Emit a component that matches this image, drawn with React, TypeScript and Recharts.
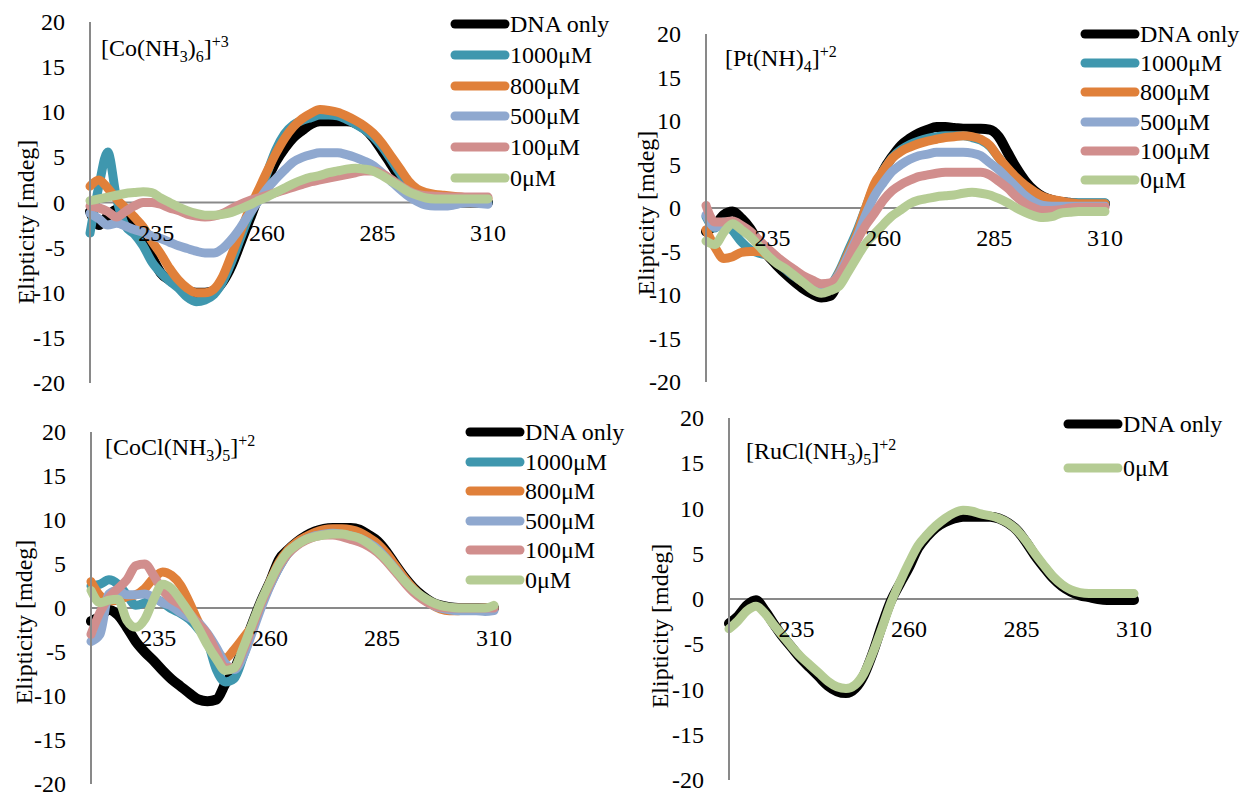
import React from 'react';
import { LineChart, Line, XAxis, YAxis, ReferenceLine } from 'recharts';

const FONT = '"Liberation Serif", "Times New Roman", serif';
const AXIS_GREY = '#898989';

const wavelengths = [
  220, 222, 224, 226, 228, 230, 232, 234, 236, 238, 240, 242, 244, 246, 248, 250,
  252, 254, 256, 258, 260, 262, 264, 266, 268, 270, 272, 274, 276, 278, 280, 282,
  284, 286, 288, 290, 292, 294, 296, 298, 300, 302, 304, 306, 308, 310,
];
const xTicks = [235, 260, 285, 310];
const yTicks = [-20, -15, -10, -5, 0, 5, 10, 15, 20];

const seriesNames = ['DNA only', '1000μM', '800μM', '500μM', '100μM', '0μM'];
const seriesColors = ['#000000', '#3f97ae', '#e0803a', '#8fa8cf', '#d18e8d', '#b5cc94'];

// [Co(NH3)6]+3
const coHexDna = [-1, -2.5, -1.5, -0.8, -1.0, -2.5, -4, -6, -7.8, -8.6, -9.2, -9.8, -10, -10, -9.8, -8.8, -7, -4.5, -2, 0.5, 2.5, 4.5, 6, 7.2, 8, 8.7, 9, 9, 9, 9, 8.8, 8.2, 7.2, 5.8, 4.3, 2.8, 1.6, 0.9, 0.4, 0.2, 0.1, 0, 0, 0, 0, 0];
const coHex1000 = [-3.4, 1.8, 5.6, 0.5, -2.6, -3.5, -4.8, -6.6, -7.8, -8.7, -9.5, -10.5, -11, -10.8, -10.2, -8.8, -6.6, -4, -1.5, 0.5, 3.2, 5.8, 7.6, 8.6, 9.1, 9.4, 9.7, 9.7, 9.6, 9.2, 8.7, 8.1, 7.3, 6.2, 4.8, 3.3, 2, 1.2, 0.6, 0.3, 0.1, 0, 0, 0, 0, 0];
const coHex800 = [1.8, 2.5, 1.6, 0.4, -0.6, -1.6, -2.7, -4.3, -5.7, -7.3, -8.6, -9.5, -10, -10, -9.6, -8.2, -5.8, -3.3, -0.8, 1.3, 3.4, 5.4, 7.1, 8.4, 9.3, 9.9, 10.3, 10.2, 10, 9.6, 9.1, 8.5, 7.7, 6.6, 5.2, 3.8, 2.4, 1.5, 1.1, 0.9, 0.8, 0.7, 0.6, 0.5, 0.45, 0.4];
const coHex500 = [-1.2, -1.8, -2.5, -2.3, -2.6, -3.0, -3.3, -3.7, -4.0, -4.4, -4.8, -5.1, -5.4, -5.6, -5.6, -5.1, -4.1, -2.8, -1.3, 0.1, 1.5, 2.6, 3.6, 4.5, 5.0, 5.3, 5.5, 5.5, 5.5, 5.3, 5, 4.6, 4.1, 3.3, 2.4, 1.5, 0.7, 0.1, -0.3, -0.4, -0.4, -0.3, -0.1, 0, -0.1, -0.2];
const coHex100 = [-0.4, -0.6, -1.0, -1.6, -1.0, -0.4, 0, 0, -0.2, -0.6, -0.9, -1.3, -1.5, -1.6, -1.5, -1.2, -0.7, -0.2, 0.2, 0.5, 0.8, 1.1, 1.4, 1.7, 2.0, 2.3, 2.5, 2.7, 2.9, 3.1, 3.3, 3.5, 3.5, 3.2, 2.6, 1.9, 1.3, 0.9, 0.75, 0.7, 0.65, 0.6, 0.6, 0.6, 0.6, 0.6];
const coHex0 = [0.2, 0.4, 0.6, 0.8, 1.0, 1.1, 1.2, 1.1, 0.5, 0, -0.5, -0.9, -1.2, -1.4, -1.4, -1.3, -1.1, -0.7, -0.3, 0.2, 0.6, 1.1, 1.6, 2.1, 2.5, 2.8, 3.0, 3.3, 3.5, 3.7, 3.8, 3.7, 3.5, 3.0, 2.4, 1.8, 1.2, 0.8, 0.5, 0.4, 0.4, 0.4, 0.4, 0.4, 0.4, 0.4];

// [Pt(NH)4]+2
const ptDna = [-2.7, -2.0, -0.8, -0.4, -1.2, -2.4, -4.2, -5.5, -6.6, -7.6, -8.5, -9.3, -9.9, -10.3, -10.1, -8.2, -5.5, -3.3, -0.5, 1.8, 4.3, 5.9, 7.2, 8.0, 8.6, 9.0, 9.3, 9.3, 9.2, 9.1, 9.1, 9.1, 9.0, 8.2, 6.4, 4.6, 3.1, 2.0, 1.3, 0.9, 0.7, 0.6, 0.5, 0.5, 0.5, 0.5];
const pt1000 = [-1.0, -2.3, -1.6, -2.6, -3.9, -4.8, -5.2, -5.5, -6.3, -7.1, -7.9, -8.6, -9.1, -9.3, -8.9, -7.3, -5.0, -2.7, 0.0, 2.6, 4.3, 5.8, 6.7, 7.3, 7.7, 8.0, 8.2, 8.3, 8.3, 8.3, 8.1, 7.8, 7.1, 5.8, 4.5, 3.4, 2.5, 1.8, 1.2, 0.9, 0.7, 0.6, 0.6, 0.6, 0.6, 0.6];
const pt800 = [-2.5, -4.5, -5.8, -5.6, -5.1, -5.0, -5.0, -5.5, -6.3, -7.0, -7.8, -8.6, -9.1, -9.3, -9.0, -7.5, -5.3, -3.0, 0.0, 2.8, 4.3, 5.7, 6.5, 7.0, 7.4, 7.7, 7.9, 8.1, 8.2, 8.3, 8.2, 7.9, 7.2, 5.8, 4.6, 3.5, 2.6, 1.9, 1.3, 1.0, 0.8, 0.6, 0.5, 0.5, 0.5, 0.5];
const pt500 = [-0.8, -2.2, -1.8, -1.6, -2.3, -3.1, -4.0, -4.9, -5.8, -6.6, -7.4, -8.1, -8.7, -9.0, -8.8, -7.6, -5.6, -3.4, -0.8, 1.4, 2.9, 4.2, 5.0, 5.6, 6.0, 6.2, 6.4, 6.4, 6.4, 6.4, 6.3, 6.0, 5.2, 4.4, 3.4, 2.4, 1.4, 0.7, 0.3, 0.2, 0.2, 0.2, 0.2, 0.2, 0.2, 0.2];
const pt100 = [0.3, -1.6, -1.6, -1.5, -2.0, -2.7, -3.7, -4.7, -5.6, -6.4, -7.1, -7.8, -8.3, -8.7, -8.6, -7.8, -6.0, -3.8, -2.0, -0.6, 0.9, 2.0, 2.7, 3.2, 3.6, 3.8, 4.0, 4.1, 4.1, 4.1, 4.1, 4.1, 3.8, 3.1, 2.3, 1.3, 0.5, 0, -0.3, -0.3, -0.2, 0, 0.1, 0.1, 0.1, 0.1];
const pt0 = [-3.8, -4.2, -2.8, -1.8, -2.5, -3.3, -4.4, -5.5, -6.4, -7.0, -7.8, -8.6, -9.4, -9.8, -9.5, -9.0, -7.4, -5.7, -4.1, -3.0, -1.9, -0.9, -0.2, 0.5, 0.9, 1.1, 1.3, 1.4, 1.5, 1.7, 1.8, 1.7, 1.5, 1.1, 0.6, 0, -0.5, -0.9, -1.1, -1.0, -0.6, -0.5, -0.4, -0.4, -0.4, -0.4];

// [CoCl(NH3)5]+2
const coClDna = [-1.5, -1.0, -0.2, -0.8, -2.2, -3.8, -5.0, -6.0, -7.1, -8.1, -8.9, -9.7, -10.4, -10.6, -10.4, -8.6, -7.0, -4.5, -1.8, 0.8, 3.0, 5.5, 6.6, 7.5, 8.2, 8.7, 9.0, 9.1, 9.1, 9.1, 8.9, 8.3, 7.6, 6.4, 4.9, 3.5, 2.3, 1.4, 0.7, 0.3, 0.1, 0, 0, 0, 0, 0];
const coCl1000 = [2.5, 2.7, 3.2, 2.7, 1.5, 0.3, 0.6, 1.1, 0.6, -0.1, -0.6, -1.3, -2.4, -3.8, -7.0, -8.4, -8.0, -5.5, -2.5, 0.3, 2.6, 4.6, 6.2, 7.2, 7.8, 8.2, 8.5, 8.6, 8.6, 8.4, 8.1, 7.6, 7.2, 6.0, 4.5, 3.2, 2.1, 1.2, 0.5, 0.1, -0.1, -0.2, -0.2, -0.2, -0.1, 0];
const coCl800 = [3.0, 1.4, 0.8, 0.9, 1.3, 1.5, 2.2, 3.4, 4.1, 3.7, 2.6, 0.6, -1.6, -3.3, -4.8, -5.7, -4.7, -3.4, -2.0, 0.3, 3.0, 5.2, 6.6, 7.5, 8.1, 8.6, 8.9, 9.0, 9.0, 8.9, 8.6, 8.0, 7.3, 6.2, 4.8, 3.4, 2.2, 1.2, 0.4, -0.1, -0.3, -0.3, -0.2, -0.1, 0, 0];
const coCl500 = [-3.8, -3.0, 1.6, 2.0, 1.5, 1.5, 1.6, 1.2, 0.6, 0.2, -0.5, -1.1, -1.7, -2.9, -4.5, -6.3, -7.0, -5.5, -2.8, 0, 2.5, 4.6, 6.2, 7.2, 7.8, 8.2, 8.4, 8.5, 8.4, 8.2, 7.9, 7.4, 6.7, 5.6, 4.4, 3.1, 2.0, 1.1, 0.4, 0, -0.2, -0.3, -0.3, -0.3, -0.4, -0.3];
const coCl100 = [-3.0, -0.5, 1.2, 2.2, 3.2, 4.8, 5.0, 3.7, 2.0, 1.0, 0.4, -0.6, -1.8, -3.0, -5.0, -6.8, -6.8, -4.8, -2.2, 0.5, 2.8, 4.8, 6.2, 7.1, 7.7, 8.1, 8.3, 8.3, 8.1, 7.8, 7.5, 7.0, 6.3, 5.3, 4.1, 2.9, 1.8, 1.0, 0.4, 0.1, 0, 0, 0, 0, 0, 0];
const coCl0 = [2.0, 0.6, 0.9, 1.0, -1.4, -2.2, -1.3, 1.0, 2.7, 2.2, 0.9, -0.6, -2.3, -4.2, -5.8, -7.1, -6.8, -4.5, -1.8, 0.8, 3.0, 5.0, 6.4, 7.2, 7.8, 8.1, 8.3, 8.4, 8.4, 8.2, 7.9, 7.3, 6.5, 5.5, 4.3, 3.1, 2.1, 1.3, 0.7, 0.3, 0.1, 0, 0, 0, 0, 0.3];

// [RuCl(NH3)5]+2
const ruDna = [-2.7, -1.9, -0.7, -0.15, -1.3, -2.8, -4.2, -5.4, -6.6, -7.6, -8.6, -9.6, -10.2, -10.4, -9.9, -8.4, -5.9, -2.9, -0.2, 1.7, 3.5, 5.6, 6.9, 7.9, 8.5, 8.9, 9.1, 9.1, 9.1, 9.1, 8.9, 8.4, 7.6, 6.3, 4.8, 3.5, 2.3, 1.4, 0.8, 0.4, 0.2, 0, -0.1, -0.1, -0.1, -0.1];
const ru0 = [-3.3, -2.4, -1.3, -0.8, -1.6, -2.9, -4.1, -5.3, -6.4, -7.3, -8.2, -9.1, -9.7, -9.9, -9.5, -8.2, -5.9, -3.2, -0.4, 1.9, 4.0, 5.9, 7.1, 8.1, 8.9, 9.5, 9.8, 9.7, 9.4, 9.2, 8.9, 8.4, 7.6, 6.4, 5.0, 3.7, 2.5, 1.6, 1.0, 0.7, 0.6, 0.6, 0.6, 0.6, 0.6, 0.6];

type SeriesDef = { key: string; name: string; color: string; values: number[] };

const makeSeries = (lists: number[][], idx: number[]): SeriesDef[] =>
  lists.map((values, i) => ({
    key: 's' + idx[i],
    name: seriesNames[idx[i]],
    color: seriesColors[idx[i]],
    values,
  }));

function buildRows(series: SeriesDef[]) {
  return wavelengths.map((wl, i) => {
    const row: Record<string, number> = { wl };
    series.forEach((s) => {
      row[s.key] = s.values[i];
    });
    return row;
  });
}

type PanelProps = {
  box: { x: number; y: number; w: number; h: number };
  margin: { top: number; right: number; bottom: number; left: number };
  series: SeriesDef[];
  legendPos: { x: number; y: number; step: number };
  title: React.ReactNode;
  titlePos: { x: number; y: number };
  yLabelPos: { x: number; y: number };
};

const subStyle: React.CSSProperties = { fontSize: 16, verticalAlign: -6, lineHeight: 0 };
const supStyle: React.CSSProperties = { fontSize: 16, verticalAlign: 9, lineHeight: 0 };

function CdPanel({ box, margin, series, legendPos, title, titlePos, yLabelPos }: PanelProps) {
  const rows = buildRows(series);
  const plotH = box.h - margin.top - margin.bottom - 1;
  const zeroY = margin.top + plotH / 2;

  const xTick = (props: any) => (
    <text x={props.x} y={zeroY + 38} textAnchor="middle" fontSize={24} fontFamily={FONT} fill="#000">
      {props.payload.value}
    </text>
  );

  const yTick = (props: any) => (
    <text x={props.x} y={props.y + 8} textAnchor="end" fontSize={24} fontFamily={FONT} fill="#000">
      {props.payload.value}
    </text>
  );

  return (
    <div style={{ position: 'absolute', left: box.x, top: box.y, width: box.w, height: box.h }}>
      <LineChart width={box.w} height={box.h} data={rows} margin={margin}>
        <XAxis
          dataKey="wl"
          type="number"
          domain={[220, 310]}
          ticks={xTicks}
          interval={0}
          axisLine={false}
          tickLine={false}
          height={1}
          tick={xTick}
        />
        <YAxis
          type="number"
          domain={[-20, 20]}
          ticks={yTicks}
          interval={0}
          width={80}
          axisLine={{ stroke: AXIS_GREY, strokeWidth: 2 }}
          tickLine={false}
          tickMargin={19}
          tick={yTick}
        />
        <ReferenceLine y={0} stroke={AXIS_GREY} strokeWidth={2} />
        {series.map((s) => (
          <Line
            key={s.key}
            dataKey={s.key}
            name={s.name}
            type="monotone"
            stroke={s.color}
            strokeWidth={s.key === 's0' ? 10 : 9}
            strokeLinecap="round"
            strokeLinejoin="round"
            dot={false}
            activeDot={false}
            isAnimationActive={false}
          />
        ))}
      </LineChart>
      <div
        style={{
          position: 'absolute',
          left: legendPos.x,
          top: legendPos.y - legendPos.step / 2,
          fontFamily: FONT,
          fontSize: 24,
          color: '#000',
        }}
      >
        {series.map((s) => (
          <div key={s.key} style={{ display: 'flex', alignItems: 'center', height: legendPos.step }}>
            <svg width={60} height={14} style={{ display: 'block' }}>
              <line x1={5} y1={7} x2={55} y2={7} stroke={s.color} strokeWidth={9} strokeLinecap="round" />
            </svg>
            <span style={{ lineHeight: 1, whiteSpace: 'nowrap' }}>{s.name}</span>
          </div>
        ))}
      </div>
      <div
        style={{
          position: 'absolute',
          left: titlePos.x,
          top: titlePos.y - 12,
          fontFamily: FONT,
          fontSize: 24,
          lineHeight: '24px',
          whiteSpace: 'nowrap',
          color: '#000',
        }}
      >
        {title}
      </div>
      <div
        style={{
          position: 'absolute',
          left: yLabelPos.x,
          top: yLabelPos.y,
          transform: 'translate(-50%, -50%) rotate(-90deg)',
          fontFamily: FONT,
          fontSize: 24,
          lineHeight: '24px',
          whiteSpace: 'nowrap',
          color: '#000',
        }}
      >
        Elipticity [mdeg]
      </div>
    </div>
  );
}

const allSix = [0, 1, 2, 3, 4, 5];

export default function App() {
  return (
    <div style={{ position: 'absolute', left: 0, top: 0, width: 1245, height: 797, background: '#fff', overflow: 'hidden' }}>
      <CdPanel
        box={{ x: 0, y: 0, w: 620, h: 400 }}
        margin={{ top: 22, right: 132, bottom: 16, left: 10 }}
        series={makeSeries([coHexDna, coHex1000, coHex800, coHex500, coHex100, coHex0], allSix)}
        legendPos={{ x: 450, y: 24, step: 30.8 }}
        title={<>[Co(NH<span style={subStyle}>3</span>)<span style={subStyle}>6</span>]<span style={supStyle}>+3</span></>}
        titlePos={{ x: 101, y: 48 }}
        yLabelPos={{ x: 26, y: 222 }}
      />
      <CdPanel
        box={{ x: 620, y: 0, w: 625, h: 400 }}
        margin={{ top: 34, right: 140, bottom: 17, left: 6 }}
        series={makeSeries([ptDna, pt1000, pt800, pt500, pt100, pt0], allSix)}
        legendPos={{ x: 460, y: 34, step: 29.2 }}
        title={<>[Pt(NH)<span style={subStyle}>4</span>]<span style={supStyle}>+2</span></>}
        titlePos={{ x: 105, y: 58 }}
        yLabelPos={{ x: 26, y: 213 }}
      />
      <CdPanel
        box={{ x: 0, y: 400, w: 620, h: 397 }}
        margin={{ top: 32, right: 126, bottom: 12, left: 11 }}
        series={makeSeries([coClDna, coCl1000, coCl800, coCl500, coCl100, coCl0], allSix)}
        legendPos={{ x: 465, y: 32, step: 29.6 }}
        title={<>[CoCl(NH<span style={subStyle}>3</span>)<span style={subStyle}>5</span>]<span style={supStyle}>+2</span></>}
        titlePos={{ x: 105, y: 47 }}
        yLabelPos={{ x: 24, y: 222 }}
      />
      <CdPanel
        box={{ x: 620, y: 400, w: 625, h: 397 }}
        margin={{ top: 18, right: 111, bottom: 16, left: 29 }}
        series={makeSeries([ruDna, ru0], [0, 5])}
        legendPos={{ x: 443, y: 24, step: 44 }}
        title={<>[RuCl(NH<span style={subStyle}>3</span>)<span style={subStyle}>5</span>]<span style={supStyle}>+2</span></>}
        titlePos={{ x: 126, y: 51 }}
        yLabelPos={{ x: 40, y: 226 }}
      />
    </div>
  );
}
